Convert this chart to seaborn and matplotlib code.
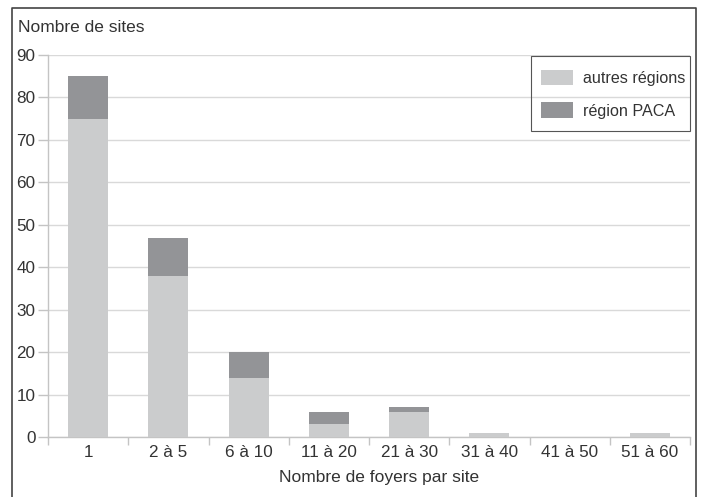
import matplotlib
matplotlib.use("Agg")
import matplotlib.pyplot as plt
import seaborn as sns
import pandas as pd
from matplotlib.lines import Line2D
from matplotlib.patches import Patch, Rectangle

categories = ["1", "2 à 5", "6 à 10", "11 à 20", "21 à 30", "31 à 40", "41 à 50", "51 à 60"]
autres = [75, 38, 14, 3, 6, 1, 0, 1]
paca = [10, 9, 6, 3, 1, 0, 0, 0]

light = "#cbcccd"
dark = "#939497"
txt = "#333333"

sns.set_theme(style="white")
plt.rcParams['font.family'] = ['Liberation Sans', 'DejaVu Sans']

df = pd.DataFrame({"cat": categories, "autres": autres, "paca": paca})
df["total"] = df["autres"] + df["paca"]

W, H = 703, 497
fig = plt.figure(figsize=(W/100, H/100), dpi=100)
ax = fig.add_axes([48/W, 60/H, (690-48)/W, (437-55)/H])

sns.barplot(data=df, x="cat", y="total", color=dark, saturation=1, width=0.5, ax=ax,
            zorder=3, linewidth=0, edgecolor="none")
sns.barplot(data=df, x="cat", y="autres", color=light, saturation=1, width=0.5, ax=ax,
            zorder=4, linewidth=0, edgecolor="none")

ax.set_ylim(0, 90)
ax.set_xlim(-0.5, len(categories) - 0.5)
ax.set_yticks(range(0, 91, 10))
ax.yaxis.grid(True, color="#d9d9d9", linewidth=1, zorder=0)
ax.set_axisbelow(True)
for s in ["top", "right"]:
    ax.spines[s].set_visible(False)
for s in ["left", "bottom"]:
    ax.spines[s].set_color("#c4c4c4")
    ax.spines[s].set_linewidth(1)

ax.set_xticks([i + 0.5 for i in range(-1, len(categories))], minor=True)
ax.tick_params(axis="x", which="minor", length=6, color="#c4c4c4", width=1, bottom=True)
ax.tick_params(axis="x", which="major", length=0, labelsize=12.3, labelcolor=txt, pad=6)
ax.tick_params(axis="y", length=7, color="#c4c4c4", width=1, left=True, labelsize=12.3, labelcolor=txt, pad=2)

ax.set_xlabel("Nombre de foyers par site", fontsize=12.5, color=txt)
ax.xaxis.set_label_coords(331/642, -0.087)
ax.set_ylabel("")
fig.text(18/W, 1 - 28/H, "Nombre de sites", fontsize=12.5, color=txt, va="center", ha="left")

handles = [Patch(facecolor=light, edgecolor="none", label="autres régions"),
           Patch(facecolor=dark, edgecolor="none", label="région PACA")]
leg = ax.legend(handles=handles, loc="upper left", bbox_to_anchor=(541/W, 1 - 70/H),
                bbox_transform=fig.transFigure, borderaxespad=0, borderpad=0,
                frameon=False, fontsize=11.6, handlelength=2.0, handleheight=1.1,
                labelspacing=1.0, handletextpad=0.6)
for t in leg.get_texts():
    t.set_color(txt)
fig.add_artist(Rectangle((531/W, 1 - 131/H), 159/W, 75/H, transform=fig.transFigure,
                         fill=False, edgecolor="#555555", linewidth=0.8, zorder=10))

# outer frame (left, top, right)
c = "#444444"
x0, x1, yt = 12/W, 696/W, 1 - 8/H
fig.add_artist(Line2D([x0, x0, x1, x1], [0, yt, yt, 0], color=c, linewidth=1.2, transform=fig.transFigure))

fig.savefig("out.png", dpi=100)
